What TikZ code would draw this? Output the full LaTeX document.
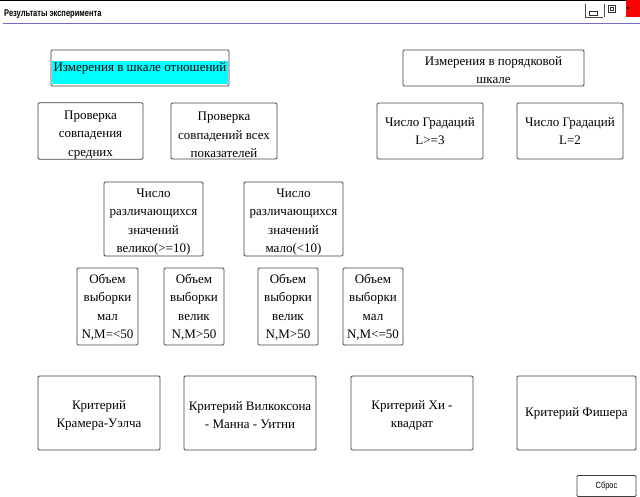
\documentclass[tikz,border=0pt]{standalone}
\usepackage{fontspec}
\usepackage{graphicx}
\setmainfont{Liberation Serif}
\newfontfamily\boxfont{Liberation Serif}
\newfontfamily\uisans{Liberation Sans}
\definecolor{aqua}{RGB}{0,255,255}
\definecolor{rule}{RGB}{110,110,200}
\newcommand\dn[1]{\rule{0pt}{#1}}
\begin{document}
\begin{tikzpicture}[x=1pt,y=-1pt,
  box/.style={draw=black!75,line width=0.8pt,rounded corners=1.2pt,align=center,inner sep=0pt,
    font=\boxfont\fontsize{13}{18.5}\selectfont},
]
\useasboundingbox (0,0) rectangle (640,497);
% window chrome
\draw[black,line width=1.2pt] (0,0.6) -- (640,0.6);
\node[anchor=west,inner sep=0pt,font=\uisans\bfseries\fontsize{7.5}{8}\selectfont] (title) at (4,14.5) {\scalebox{1}[1.3]{Результаты эксперимента}};
\draw[rule,line width=1pt] (3,23.5) -- (640,23.5);
\draw[black!70,line width=0.7pt] (585,4) -- (585,17) -- (603,17);
\draw[black!80,line width=0.6pt] (589.5,11.5) rectangle (597.5,15);
\draw[black!70,line width=0.7pt] (604,4) -- (604,17);
\draw[black!80,line width=0.6pt] (608.5,5) rectangle (615.5,12);
\draw[black!80,line width=0.6pt] (610.5,7.5) rectangle (613.5,10);
\fill[red] (626,0) rectangle (640,17);
\draw[black,line width=1pt] (627,7) -- (629,9) (627,9) -- (629,7);

% cyan highlight
\fill[aqua] (52,61) rectangle (228,84.5);
\node[box,minimum width=178pt,minimum height=36pt] (ratio) at (140,68) {\dn{10.6pt}Измерения в шкале отношений};
\node[box,minimum width=181pt,minimum height=36pt] (ord) at (493.5,68) {\dn{13.6pt}Измерения в порядковой\\шкале};

\node[box,minimum width=105pt,minimum height=56pt] (chk1) at (90.5,131) {\dn{16.6pt}Проверка\\совпадения\\средних};
\node[box,minimum width=106pt,minimum height=56pt] (chk2) at (224,131) {\dn{16.6pt}Проверка\\совпадений всех\\показателей};
\node[box,minimum width=106pt,minimum height=56pt] (gr3) at (430,131) {Число Градаций\\L>=3};
\node[box,minimum width=106pt,minimum height=56pt] (gr2) at (570,131) {Число Градаций\\L=2};

\node[box,minimum width=99pt,minimum height=74pt] (many) at (153.5,219) {\dn{14.6pt}Число\\различающихся\\значений\\велико(>=10)};
\node[box,minimum width=99pt,minimum height=74pt] (few) at (293.5,219) {\dn{14.6pt}Число\\различающихся\\значений\\мало(<10)};

\node[box,minimum width=61pt,minimum height=77pt] (s1) at (107.5,306.5) {\dn{10.6pt}Объем\\выборки\\мал\\N,M=<50};
\node[box,minimum width=60pt,minimum height=77pt] (s2) at (194,306.5) {\dn{10.6pt}Объем\\выборки\\велик\\N,M>50};
\node[box,minimum width=60pt,minimum height=77pt] (s3) at (288,306.5) {\dn{10.6pt}Объем\\выборки\\велик\\N,M>50};
\node[box,minimum width=60pt,minimum height=77pt] (s4) at (373,306.5) {\dn{10.6pt}Объем\\выборки\\мал\\N,M<=50};

\node[box,minimum width=122pt,minimum height=74pt] (k1) at (99,413) {\dn{13.6pt}Критерий\\Крамера-Уэлча};
\node[box,minimum width=132pt,minimum height=74pt] (k2) at (250,413) {\dn{13.6pt}Критерий Вилкоксона\\- Манна - Уитни};
\node[box,minimum width=122pt,minimum height=74pt] (k3) at (412,413) {\dn{13.6pt}Критерий Хи -\\квадрат};
\node[box,minimum width=119pt,minimum height=74pt] (k4) at (576.5,413) {Критерий Фишера};

\node[draw=black!75,line width=0.8pt,rounded corners=1pt,minimum width=59pt,minimum height=21pt,inner sep=0pt,
  font=\uisans\fontsize{7.5}{8}\selectfont] (reset) at (606.5,486) {\scalebox{1}[1.2]{Сброс}};
\end{tikzpicture}
\end{document}
